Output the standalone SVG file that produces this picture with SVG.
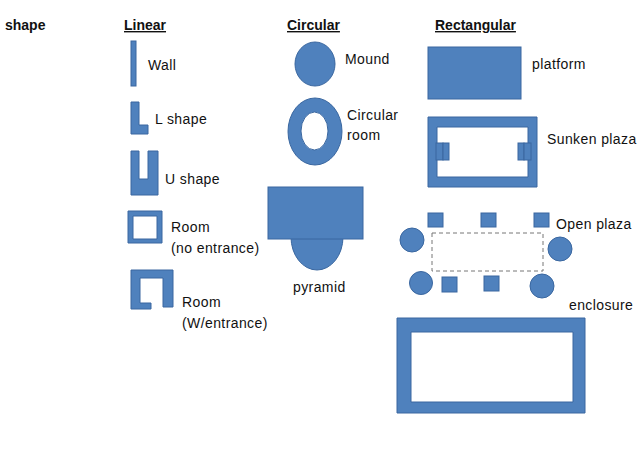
<svg xmlns="http://www.w3.org/2000/svg" width="640" height="450" viewBox="0 0 640 450">
<style>
.s{fill:#4F81BD;stroke:#3A67A0;stroke-width:1}
.t{font-family:"Liberation Sans",Arial,sans-serif;font-size:14px;fill:#111;letter-spacing:0.4px}
.h{font-family:"Liberation Sans",Arial,sans-serif;font-size:14px;font-weight:bold;fill:#111;text-decoration:underline}
</style>
<rect width="640" height="450" fill="#fff"/>
<g id="headings">
<text x="5" y="30" class="h" style="text-decoration:none">shape</text>
<text x="124" y="30" class="h">Linear</text>
<text x="287" y="30" class="h">Circular</text>
<text x="435" y="30" class="h">Rectangular</text>
</g>
<g id="wall"><rect class="s" x="131" y="41" width="5" height="45"/><text class="t" x="148" y="70">Wall</text></g>
<g id="lshape"><path class="s" d="M131 102H139V125H148V134H131Z"/><text class="t" x="155" y="124">L shape</text></g>
<g id="ushape"><path class="s" d="M131 151H139V179H148V151H158V195H131Z"/><text class="t" x="165" y="184">U shape</text></g>
<g id="room"><path class="s" fill-rule="evenodd" d="M128 211H162V243H128Z M133 216V239H157V216Z"/><text class="t" x="171" y="232">Room</text><text class="t" x="171" y="253">(no entrance)</text></g>
<g id="room-entrance"><path class="s" d="M131 270H173V307H163V278H140V303H151V309H131Z"/><text class="t" x="182" y="307">Room</text><text class="t" x="182" y="328">(W/entrance)</text></g>
<g id="mound"><ellipse class="s" cx="315" cy="64" rx="20" ry="22"/><text class="t" x="345" y="64">Mound</text></g>
<g id="circular-room"><path class="s" fill-rule="evenodd" d="M288 131.5a27 33.5 0 1 0 54 0a27 33.5 0 1 0 -54 0Z M301 131a13.5 19 0 1 0 27 0a13.5 19 0 1 0 -27 0Z"/><text class="t" x="347" y="120">Circular</text><text class="t" x="347" y="140">room</text></g>
<g id="pyramid"><ellipse class="s" cx="317" cy="237" rx="26" ry="33"/><rect class="s" x="268" y="187" width="95" height="52"/><text class="t" x="293" y="292">pyramid</text></g>
<g id="platform"><rect class="s" x="428" y="47" width="93" height="52"/><text class="t" x="532" y="69">platform</text></g>
<g id="sunken-plaza"><path class="s" fill-rule="evenodd" d="M428 117H537V187H428Z M437 127V177H528V127Z"/>
<rect class="s" x="436" y="143" width="7" height="17"/><rect class="s" x="443" y="143" width="6" height="17"/>
<rect class="s" x="518" y="143" width="6" height="17"/><rect class="s" x="524" y="143" width="7" height="17"/>
<text class="t" x="547" y="144">Sunken plaza</text></g>
<g id="open-plaza">
<rect x="432" y="233" width="111" height="38" fill="none" stroke="#777" stroke-width="1" stroke-dasharray="4,3"/>
<rect class="s" x="428" y="213" width="15" height="14"/><rect class="s" x="481" y="213" width="15" height="14"/><rect class="s" x="534" y="213" width="15" height="14"/>
<rect class="s" x="442" y="277" width="15" height="15"/><rect class="s" x="484" y="276" width="15" height="15"/>
<circle class="s" cx="412" cy="240" r="12"/><circle class="s" cx="560" cy="249" r="12"/><circle class="s" cx="421" cy="283" r="11.5"/><circle class="s" cx="542" cy="286" r="12"/>
<text class="t" x="556" y="229">Open plaza</text></g>
<g id="enclosure"><path class="s" fill-rule="evenodd" d="M397 318H585V413H397Z M411 332V402H573V332Z"/><text class="t" x="569" y="310">enclosure</text></g>
<g id="connectors"></g>
</svg>
